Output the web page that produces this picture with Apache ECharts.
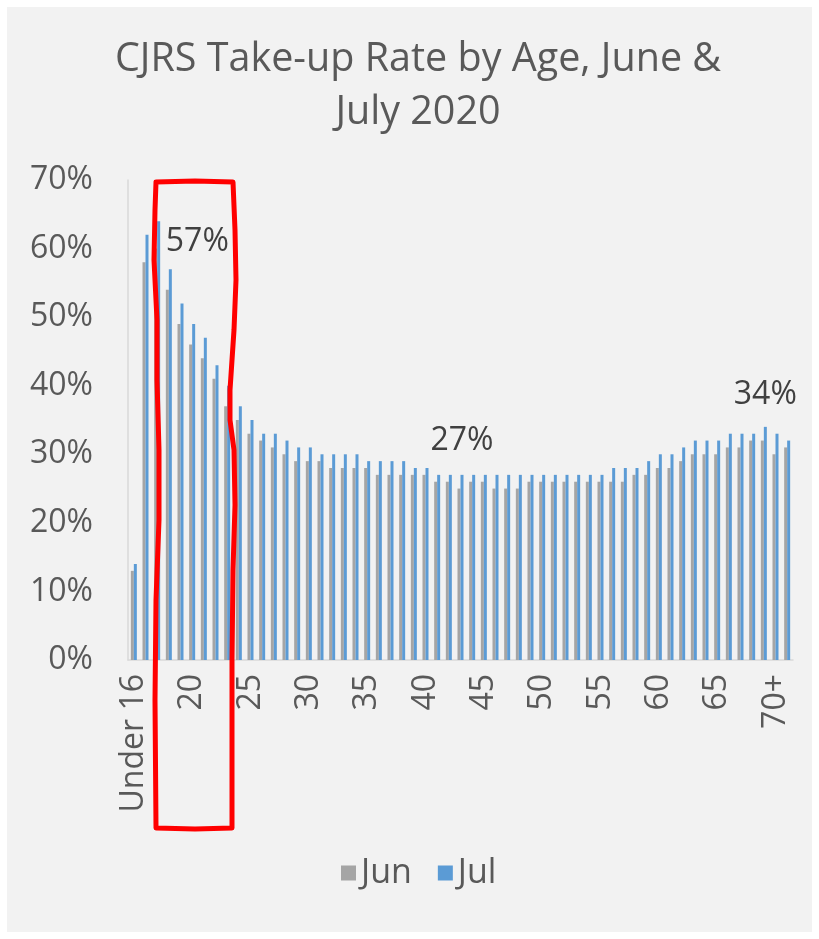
<!DOCTYPE html>
<html>
<head>
<meta charset="utf-8">
<script src="https://cdn.jsdelivr.net/npm/echarts@6/dist/echarts.min.js"></script>
<style>
html,body{margin:0;padding:0;background:#ffffff;}
#chart{width:819px;height:939px;}
</style>
</head>
<body>
<div id="chart"></div>
<script>
// Categories (57 bands; labels every 5th)
const ages = ["Under 16","16","17","18","19","20","21","22","23","24","25","26","27","28","29","30","31","32","33","34","35","36","37","38","39","40","41","42","43","44","45","46","47","48","49","50","51","52","53","54","55","56","57","58","59","60","61","62","63","64","65","66","67","68","69","70+","Unknown"];
// Take-up rate (%) June 2020
const jun = [13,58,60,54,49,46,44,41,37,35,33,32,31,30,29,29,29,28,28,28,28,27,27,27,27,27,26,26,25,26,26,25,25,25,26,26,26,26,26,26,26,26,26,27,27,28,28,29,30,30,30,31,31,32,32,30,31];
// Take-up rate (%) July 2020
const jul = [14,62,64,57,52,49,47,43,40,37,35,33,33,32,31,31,30,30,30,30,29,29,29,29,28,28,27,27,27,27,27,27,27,27,27,27,27,27,27,27,27,28,28,28,29,30,30,31,32,32,32,33,33,33,34,33,32];
// Highlighted July data labels (category indexes)
const julLabelIdx = [3, 28, 54];
const yTicks = [0,10,20,30,40,50,60,70];

const FONT = "Open Sans";
const chart = echarts.init(document.getElementById('chart'));

const labelOffsets = {3:[27,-6], 28:[0,-13], 54:[0,-11]};
const julData = jul.map((v,i)=>{
  if (julLabelIdx.includes(i)) {
    return {value:v, label:{show:true, position:'top', offset:labelOffsets[i],
      formatter:'{c}%', fontSize:32, fontFamily:FONT, color:'#404040'}};
  }
  return v;
});

chart.setOption({
  backgroundColor:'#ffffff',
  animation:false,
  title:{
    text:'CJRS Take-up Rate by Age, June &\nJuly 2020',
    left:413, top:28, textAlign:'center',
    textStyle:{fontFamily:FONT, fontSize:39.5, fontWeight:'normal', color:'#595959', lineHeight:53}
  },
  legend:{
    data:['Jun','Jul'], top:851, left:336,
    itemWidth:15, itemHeight:15, itemGap:26, icon:'rect',
    textStyle:{fontFamily:FONT, fontSize:34, color:'#595959'}
  },
  grid:{left:128, right:26, top:180, bottom:279, containLabel:false},
  xAxis:{
    type:'category', data:ages,
    axisLine:{show:true, lineStyle:{color:'#d9d9d9', width:1.5}},
    axisTick:{show:false},
    axisLabel:{interval:4, rotate:90, margin:14, fontFamily:FONT, fontSize:32, color:'#595959'}
  },
  yAxis:{
    type:'value', min:yTicks[0], max:yTicks[yTicks.length-1], interval:10,
    axisLine:{show:true, lineStyle:{color:'#d9d9d9', width:1.5}},
    axisTick:{show:false},
    splitLine:{show:false},
    axisLabel:{formatter:'{value}%', margin:35, fontFamily:FONT, fontSize:32, color:'#595959'}
  },
  series:[
    {name:'Jun', type:'bar', data:jun, barWidth:3, barGap:'0%', itemStyle:{color:'#a5a5a5'}},
    {name:'Jul', type:'bar', data:julData, barWidth:3, barGap:'0%', itemStyle:{color:'#5b9bd5'}}
  ],
  graphic:[
    {type:'rect', z:-10, silent:true, shape:{x:7,y:7,width:805,height:925}, style:{fill:'#f2f2f2'}},
    {type:'polyline', z:100, silent:true,
     shape:{points:[[156,182],[195,181],[233,182],[235,230],[236,280],[234,330],[230,390],[230,420],[234,450],[235,505],[233,570],[232,660],[232,828],[195,829],[156,828],[155,700],[156,600],[159,520],[159,450],[157,380],[157,320],[154,260],[155,210],[156,182]]},
     style:{stroke:'#ff0000', lineWidth:5, fill:null, lineJoin:'round', lineCap:'round'}}
  ]
});
</script>
</body>
</html>
